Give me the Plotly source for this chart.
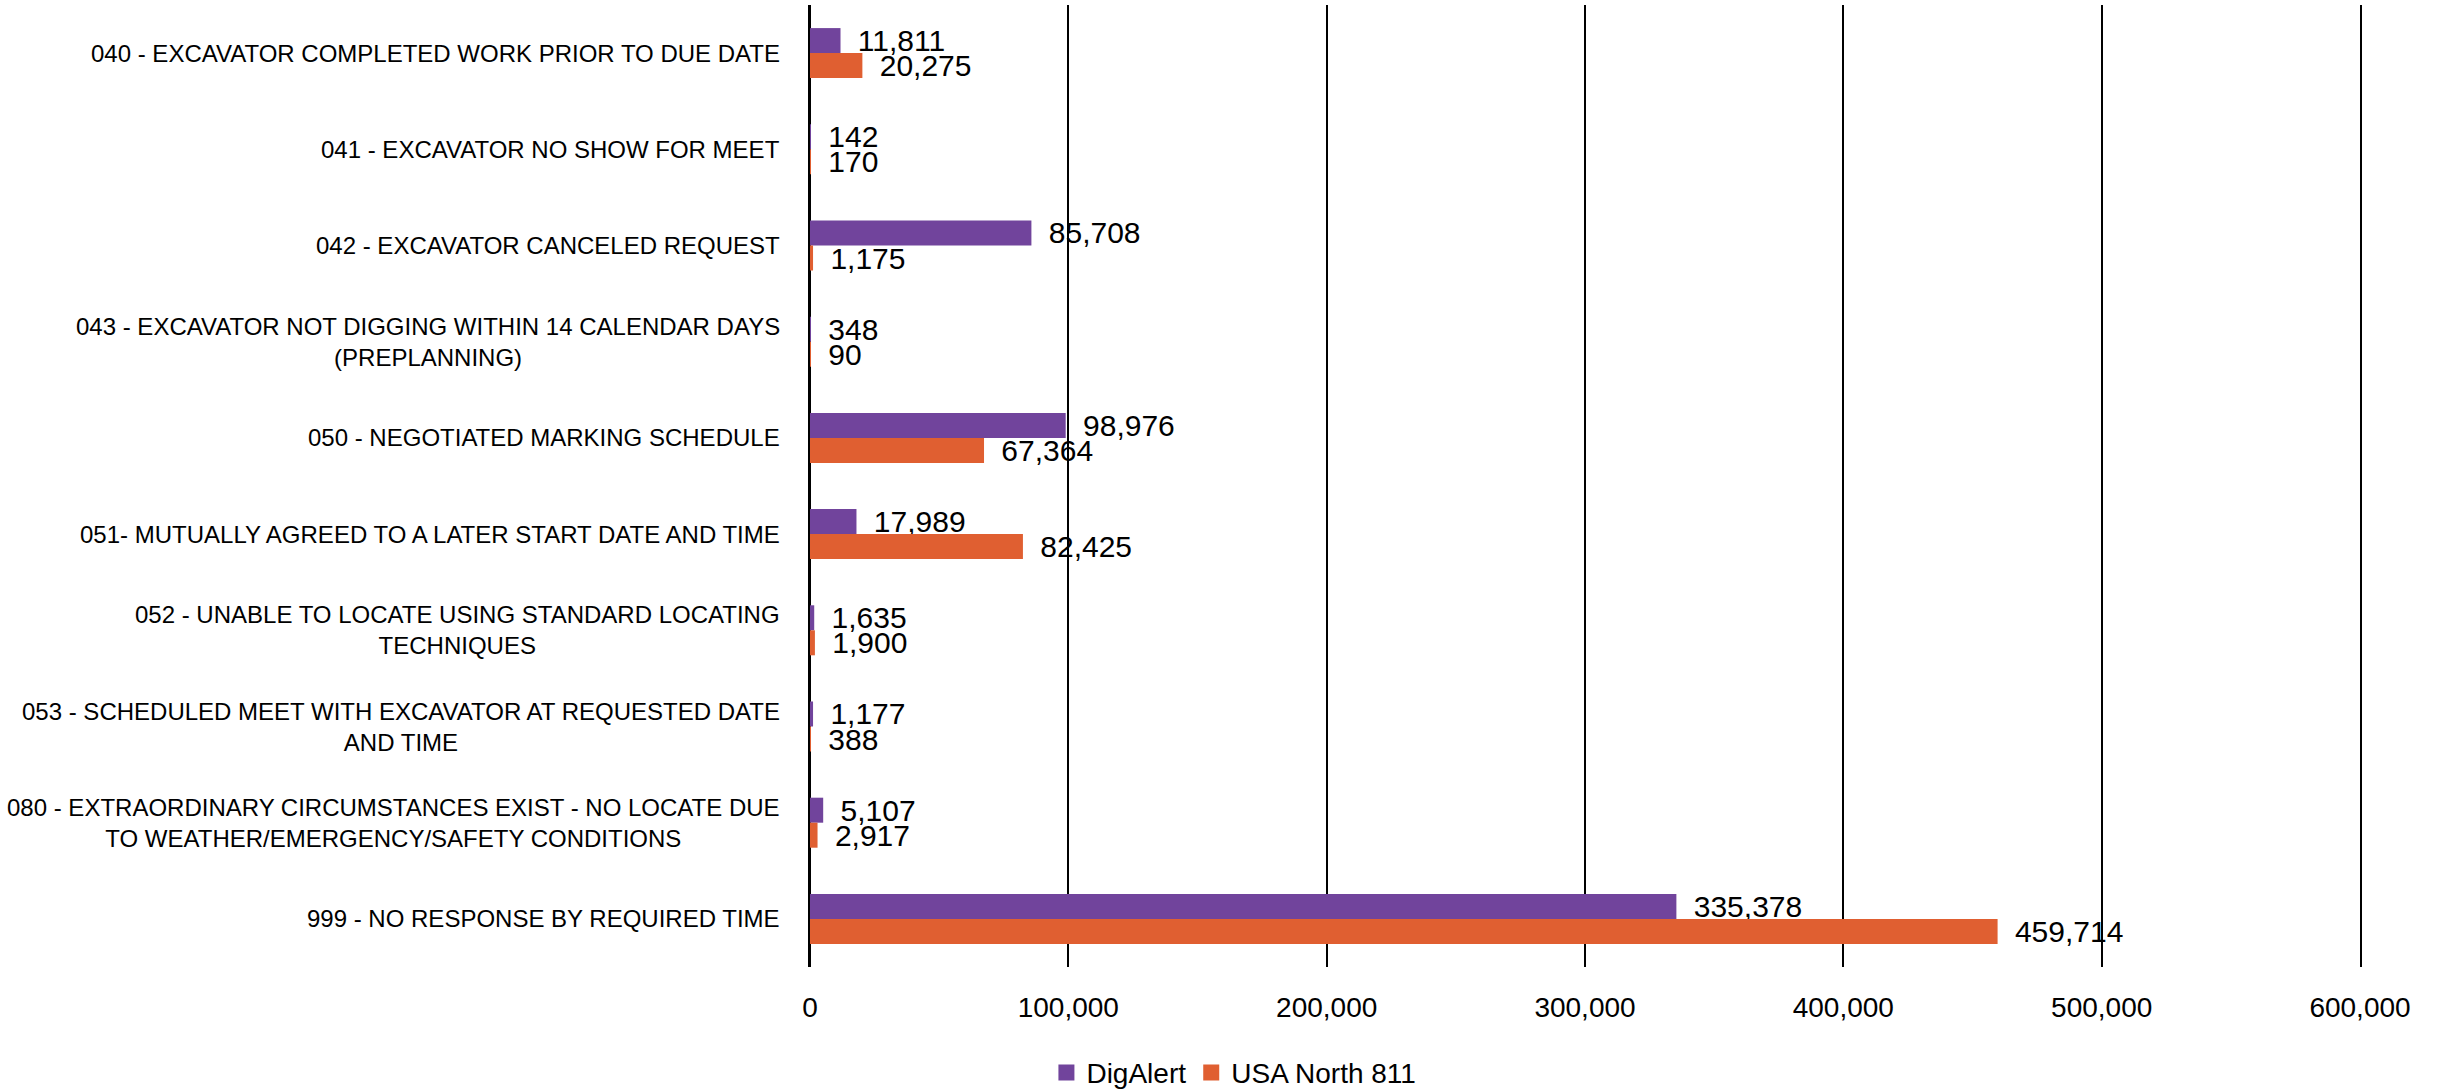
import plotly.graph_objects as go

# Response codes (two-line labels use <br>)
categories = [
    "040 - EXCAVATOR COMPLETED WORK PRIOR TO DUE DATE",
    "041 - EXCAVATOR NO SHOW FOR MEET",
    "042 - EXCAVATOR CANCELED REQUEST",
    "043 - EXCAVATOR NOT DIGGING WITHIN 14 CALENDAR DAYS<br>(PREPLANNING)",
    "050 - NEGOTIATED MARKING SCHEDULE",
    "051- MUTUALLY AGREED TO A LATER START DATE AND TIME",
    "052 - UNABLE TO LOCATE USING STANDARD LOCATING<br>TECHNIQUES",
    "053 - SCHEDULED MEET WITH EXCAVATOR AT REQUESTED DATE<br>AND TIME",
    "080 - EXTRAORDINARY CIRCUMSTANCES EXIST - NO LOCATE DUE<br>TO WEATHER/EMERGENCY/SAFETY CONDITIONS",
    "999 - NO RESPONSE BY REQUIRED TIME",
]
digalert = [11811, 142, 85708, 348, 98976, 17989, 1635, 1177, 5107, 335378]
usa_north = [20275, 170, 1175, 90, 67364, 82425, 1900, 388, 2917, 459714]
x_ticks = [0, 100000, 200000, 300000, 400000, 500000, 600000]

FONT = "Liberation Sans, Arial, sans-serif"
PURPLE = "#71449C"
ORANGE = "#E05F31"

series = [("DigAlert", digalert, PURPLE), ("USA North 811", usa_north, ORANGE)]

fig = go.Figure()
for name, vals, color in series:
    fig.add_trace(go.Bar(
        name=name, y=categories, x=vals, orientation="h",
        marker=dict(color=color, line=dict(width=0)),
        texttemplate="\u00a0\u2009%{x:,}", textposition="outside",
        textfont=dict(family=FONT, size=30, color="black"),
        constraintext="none", cliponaxis=False, showlegend=False,
    ))

# Legend entries with larger square swatches
for name, vals, color in series:
    fig.add_trace(go.Scatter(
        name=name, x=[None], y=[None], mode="markers",
        marker=dict(symbol="square", size=18, color=color),
        showlegend=True,
    ))

# Category labels drawn as centred multi-line text to the left of the plot
for cat in categories:
    fig.add_annotation(
        x=0, xref="paper", y=cat, yref="y", text=cat, showarrow=False,
        xanchor="right", yanchor="middle", align="center", xshift=-28,
        font=dict(family=FONT, size=24, color="black"),
    )

fig.update_layout(
    width=2441, height=1091,
    margin=dict(l=810, r=81, t=5, b=124, autoexpand=False),
    paper_bgcolor="white", plot_bgcolor="white",
    barmode="group", bargap=0.48, bargroupgap=0,
    font=dict(family=FONT, size=28, color="black"),
    showlegend=True,
    legend=dict(
        orientation="h", x=0.2735, xanchor="center", y=-0.11, yanchor="middle",
        font=dict(family=FONT, size=28, color="black"), traceorder="normal",
        itemsizing="trace",
    ),
    xaxis=dict(
        range=[0, 600000], tickvals=x_ticks, tickformat=",",
        showgrid=True, gridcolor="black", gridwidth=2,
        zeroline=True, zerolinecolor="black", zerolinewidth=2,
        showline=False, ticks="", ticklabelstandoff=21,
        tickfont=dict(family=FONT, size=28, color="black"),
        fixedrange=True,
    ),
    yaxis=dict(
        autorange="reversed", showticklabels=False, showgrid=False,
        zeroline=False, showline=True, mirror=True, linecolor="black",
        linewidth=2, ticks="",
    ),
)

fig.write_html("out.html")
